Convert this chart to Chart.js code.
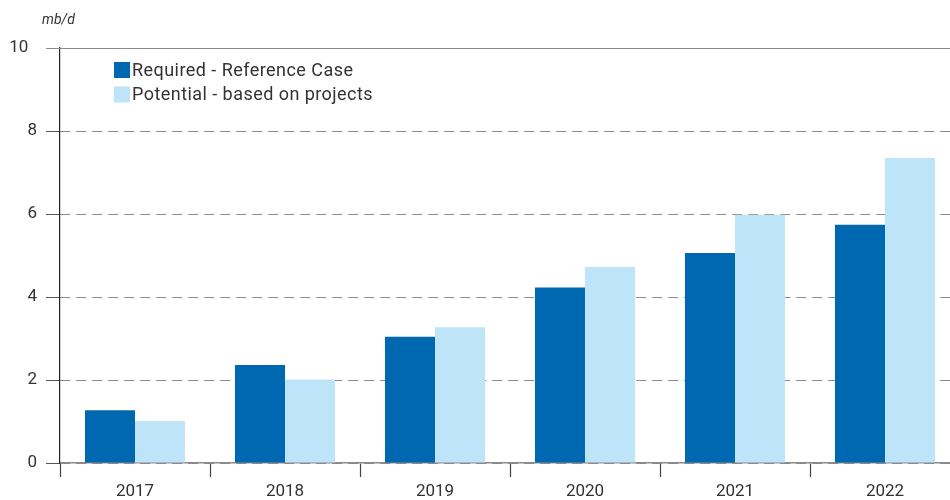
<!DOCTYPE html>
<html>
<head>
<meta charset="utf-8">
<script src="https://cdn.jsdelivr.net/npm/chart.js@4.4.1/dist/chart.umd.min.js"></script>
<style>
  html, body { margin: 0; padding: 0; width: 950px; height: 500px; overflow: hidden; background: #fff; }
  canvas { display: block; }
</style>
</head>
<body>
<canvas id="chart" width="960" height="500"></canvas>
<script>
// Données
const years = ['2017', '2018', '2019', '2020', '2021', '2022'];
const required = [1.27, 2.36, 3.04, 4.23, 5.06, 5.74];
const potential = [1.01, 2.01, 3.27, 4.72, 5.98, 7.35];
const yMin = 0;
const yMax = 10;
const yStep = 2;
const unitLabel = 'mb/d';
const labelRequired = 'Required - Reference Case';
const labelPotential = 'Potential - based on projects';

const FONT = 'Roboto, "DejaVu Sans", sans-serif';
const TEXT = '#333333';

// Legende + unite + ligne du haut
const extras = {
  id: 'extras',
  afterDraw(chart) {
    const ctx = chart.ctx;
    const y = chart.scales.y;
    const area = chart.chartArea;
    ctx.save();
    // ligne pleine a 10
    const yTop = y.getPixelForValue(yMax);
    ctx.strokeStyle = '#8a8a8a';
    ctx.lineWidth = 1;
    ctx.beginPath();
    ctx.moveTo(area.left - 14, yTop + 0.5);
    ctx.lineTo(area.right, yTop + 0.5);
    ctx.stroke();
    // unite
    ctx.fillStyle = TEXT;
    ctx.font = 'italic 14px ' + FONT;
    ctx.textBaseline = 'middle';
    ctx.textAlign = 'left';
    ctx.fillText(unitLabel, 42, 20);
    // legende
    ctx.font = '18px ' + FONT;
    ctx.letterSpacing = '0.45px';
    chart.data.datasets.forEach((ds, i) => {
      const top = 62 + i * 24.5;
      ctx.fillStyle = ds.backgroundColor;
      ctx.fillRect(114, top, 16, 16);
      ctx.fillStyle = TEXT;
      ctx.fillText(ds.label, 132, top + 9);
    });
    ctx.restore();
  }
};

const ctx = document.getElementById('chart').getContext('2d');
new Chart(ctx, {
  type: 'bar',
  data: {
    labels: years,
    datasets: [{
      label: labelRequired,
      data: required,
      backgroundColor: '#0067b1',
      borderWidth: 0,
      categoryPercentage: 0.667,
      barPercentage: 1
    }, {
      label: labelPotential,
      data: potential,
      backgroundColor: '#bde4f9',
      borderWidth: 0,
      categoryPercentage: 0.667,
      barPercentage: 1
    }]
  },
  options: {
    responsive: false,
    animation: false,
    layout: {
      padding: { top: 48, left: 0, right: 0, bottom: 0 }
    },
    plugins: {
      legend: { display: false },
      tooltip: { enabled: false }
    },
    scales: {
      x: {
        grid: {
          display: true,
          offset: true,
          drawOnChartArea: false,
          drawTicks: true,
          tickLength: 14,
          tickColor: '#444444',
          tickWidth: 1.2
        },
        border: { display: true, color: '#8a8a8a', width: 1.5 },
        ticks: {
          color: TEXT,
          font: { family: FONT, size: 17 },
          padding: 5
        },
        afterFit(scale) { scale.height = 37; }
      },
      y: {
        min: yMin,
        max: yMax,
        ticks: {
          stepSize: yStep,
          color: TEXT,
          font: { family: FONT, size: 17 },
          padding: 9,
          // le "10" est decale vers la gauche dans l'original
          callback: v => (v === yMax ? v + '\u2002' : String(v))
        },
        grid: {
          color: '#8a8a8a',
          lineWidth: 1,
          tickLength: 14,
          tickColor: '#555555'
        },
        border: { display: true, color: '#222222', width: 1.2, dash: [10, 6] },
        afterFit(scale) { scale.width = 60; }
      }
    }
  },
  plugins: [extras]
});
</script>
</body>
</html>
